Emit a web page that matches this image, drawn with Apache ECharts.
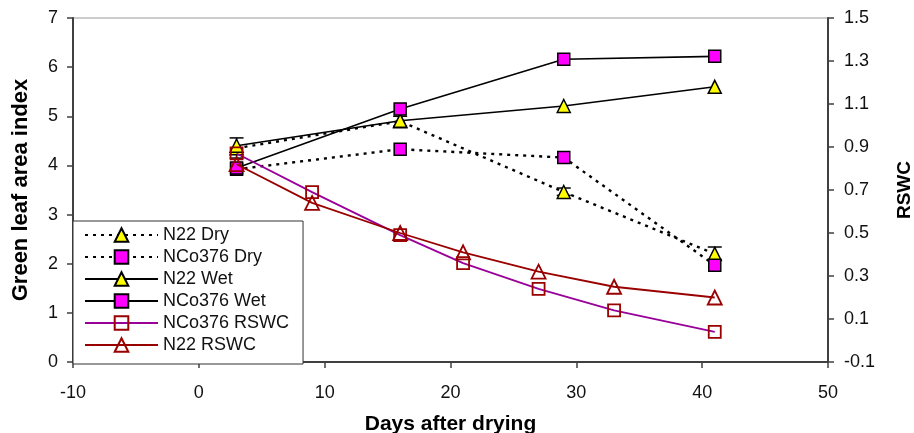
<!DOCTYPE html>
<html>
<head>
<meta charset="utf-8">
<script src="https://cdn.jsdelivr.net/npm/echarts@6/dist/echarts.min.js"></script>
<style>
    html, body { margin: 0; padding: 0; background: #fff; }
    #chart { width: 914px; height: 433px; }
</style>
</head>
<body>
<div id="chart"></div>
<script>
const gliDays = [3, 16, 29, 41];
const n22Dry = [4.35, 4.9, 3.46, 2.2];
const nco376Dry = [3.92, 4.33, 4.16, 1.97];
const n22Wet = [4.4, 4.91, 5.21, 5.6];
const nco376Wet = [3.95, 5.15, 6.16, 6.22];

// error bars on N22 Dry: [low, high]
const n22DryErr = [[4.15, 4.56], [4.8, 5.0], [3.39, 3.54], [2.08, 2.34]];

const rswcDays = [3, 9, 16, 21, 27, 33, 41];
const nco376Rswc = [0.87, 0.69, 0.49, 0.36, 0.24, 0.14, 0.04];
const n22Rswc = [0.82, 0.64, 0.5, 0.41, 0.32, 0.25, 0.2];

const xTicks = { min: -10, max: 50, step: 10 };
const leftTicks = { min: 0, max: 7, step: 1 };
const rightTicks = { min: -0.1, max: 1.5, step: 0.2 };

const FONT = '"Liberation Sans", Arial, sans-serif';
const AXIS_COLOR = '#404040';

function pairs(xs, ys) {
    return xs.map((x, i) => [x, ys[i]]);
}

function gliSeries(name, values, symbol, fill, dotted) {
    return {
        name,
        type: 'line',
        yAxisIndex: 0,
        data: pairs(gliDays, values),
        symbol,
        symbolSize: symbol === 'triangle' ? 13 : 12,
        itemStyle: { color: fill, borderColor: '#000', borderWidth: 1.5 },
        lineStyle: { color: '#000', width: dotted ? 2.4 : 1.6, type: dotted ? [3, 5] : 'solid' },
        emphasis: { disabled: true },
        z: 3
    };
}

function rswcSeries(name, values, symbol, lineColor) {
    return {
        name,
        type: 'line',
        yAxisIndex: 1,
        data: pairs(rswcDays, values),
        symbol,
        symbolSize: symbol === 'triangle' ? 14 : 12,
        itemStyle: { color: 'rgba(255,255,255,0)', borderColor: '#990000', borderWidth: 1.8 },
        lineStyle: { color: lineColor, width: 1.8 },
        emphasis: { disabled: true },
        z: 4
    };
}

function valueAxisBase() {
    return {
        axisLine: { show: true, onZero: false, lineStyle: { color: AXIS_COLOR, width: 2 } },
        axisTick: { show: true, length: 6, lineStyle: { color: AXIS_COLOR, width: 1.5 } },
        splitLine: { show: false }
    };
}

const chart = echarts.init(document.getElementById('chart'));

chart.setOption({
    animation: false,
    textStyle: { fontFamily: FONT },
    grid: {
        left: 73,
        right: 86,
        top: 18,
        bottom: 71,
        containLabel: false,
        outerBoundsMode: 'none',
        show: true,
        borderColor: '#999',
        borderWidth: 1
    },
    legend: {
        orient: 'vertical',
        left: 73,
        top: 221,
        padding: [5, 14, 10, 11],
        backgroundColor: '#fff',
        borderColor: '#333',
        borderWidth: 1,
        borderRadius: 0,
        itemWidth: 73,
        itemHeight: 17,
        itemGap: 4,
        textStyle: { fontSize: 18, color: '#111', fontFamily: FONT, lineHeight: 18 },
        data: ['N22 Dry', 'NCo376 Dry', 'N22 Wet', 'NCo376 Wet', 'NCo376 RSWC', 'N22 RSWC']
    },
    xAxis: {
        ...valueAxisBase(),
        type: 'value',
        min: xTicks.min,
        max: xTicks.max,
        interval: xTicks.step,
        name: 'Days after drying',
        nameLocation: 'middle',
        nameGap: 52,
        nameTextStyle: { fontSize: 21, fontWeight: 'bold', color: '#000', fontFamily: FONT },
        axisLabel: { fontSize: 18, color: '#111', margin: 22, fontFamily: FONT }
    },
    yAxis: [
        {
            ...valueAxisBase(),
            type: 'value',
            position: 'left',
            min: leftTicks.min,
            max: leftTicks.max,
            interval: leftTicks.step,
            name: 'Green leaf area index',
            nameLocation: 'middle',
            nameGap: 41,
            nameTextStyle: { fontSize: 22, fontWeight: 'bold', color: '#000', fontFamily: FONT },
            axisLabel: { fontSize: 18, color: '#111', margin: 15, fontFamily: FONT }
        },
        {
            ...valueAxisBase(),
            type: 'value',
            position: 'right',
            min: rightTicks.min,
            max: rightTicks.max,
            interval: rightTicks.step,
            name: 'RSWC',
            nameLocation: 'middle',
            nameGap: 67,
            nameRotate: 90,
            nameTextStyle: { fontSize: 19, fontWeight: 'bold', color: '#000', fontFamily: FONT },
            axisLabel: {
                fontSize: 18,
                color: '#111',
                margin: 16,
                fontFamily: FONT,
                formatter: v => v.toFixed(1)
            }
        }
    ],
    series: [
        {
            name: 'N22 Dry error',
            type: 'custom',
            yAxisIndex: 0,
            data: gliDays.map((d, i) => [d, n22DryErr[i][0], n22DryErr[i][1]]),
            encode: { x: 0, y: [1, 2] },
            z: 2,
            renderItem(params, api) {
                const x = api.value(0);
                const top = api.coord([x, api.value(2)]);
                const bottom = api.coord([x, api.value(1)]);
                const half = 7;
                const style = { stroke: '#000', lineWidth: 1.5 };
                return {
                    type: 'group',
                    children: [
                        { type: 'line', shape: { x1: top[0], y1: top[1], x2: bottom[0], y2: bottom[1] }, style },
                        { type: 'line', shape: { x1: top[0] - half, y1: top[1], x2: top[0] + half, y2: top[1] }, style },
                        { type: 'line', shape: { x1: bottom[0] - half, y1: bottom[1], x2: bottom[0] + half, y2: bottom[1] }, style }
                    ]
                };
            }
        },
        gliSeries('N22 Dry', n22Dry, 'triangle', '#ffff00', true),
        gliSeries('NCo376 Dry', nco376Dry, 'rect', '#ff00ff', true),
        gliSeries('N22 Wet', n22Wet, 'triangle', '#ffff00', false),
        gliSeries('NCo376 Wet', nco376Wet, 'rect', '#ff00ff', false),
        rswcSeries('NCo376 RSWC', nco376Rswc, 'rect', '#990099'),
        rswcSeries('N22 RSWC', n22Rswc, 'triangle', '#990000')
    ]
});

window.addEventListener('resize', () => chart.resize());
</script>
</body>
</html>
